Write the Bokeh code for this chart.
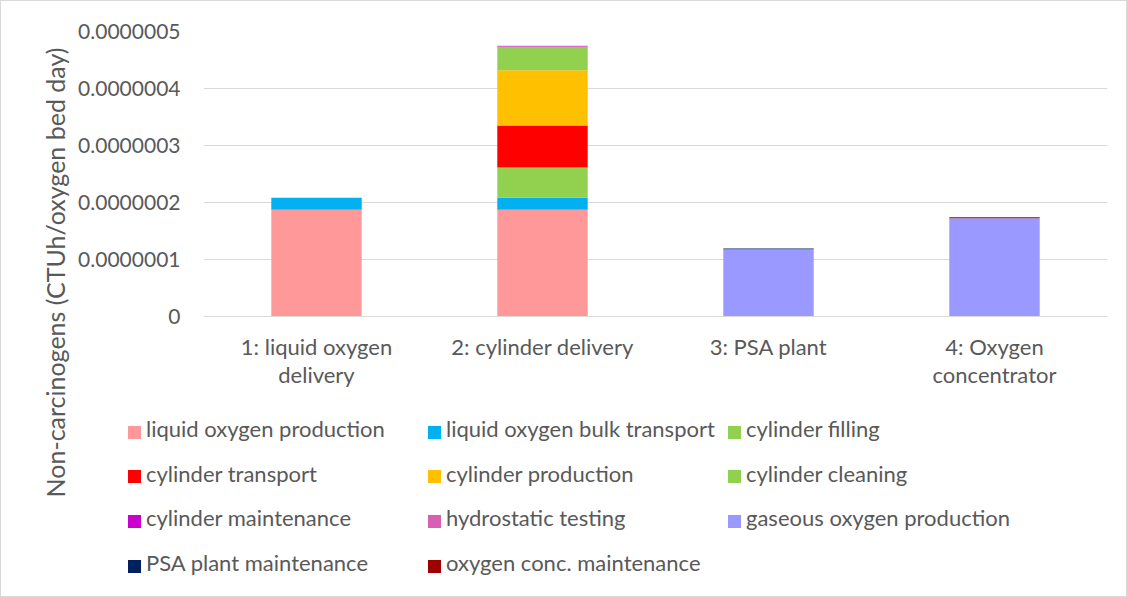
import math
from bokeh.plotting import figure
from bokeh.layouts import row, column
from bokeh.models import (FactorRange, Range1d, FixedTicker, Label, Div,
                          ColumnDataSource)
from bokeh.embed import file_html
from bokeh.resources import INLINE

# ---------------- data ----------------
categories = ["1: liquid oxygen\ndelivery", "2: cylinder delivery",
              "3: PSA plant", "4: Oxygen\nconcentrator"]

series_names = ["liquid oxygen production", "liquid oxygen bulk transport",
                "cylinder filling", "cylinder transport", "cylinder production",
                "cylinder cleaning", "cylinder maintenance", "hydrostatic testing",
                "gaseous oxygen production", "PSA plant maintenance",
                "oxygen conc. maintenance"]

liquid_oxygen_production = [1.875e-7, 1.875e-7, 0.0, 0.0]
liquid_oxygen_bulk_transport = [0.21e-7, 0.21e-7, 0.0, 0.0]
cylinder_filling = [0.0, 0.53e-7, 0.0, 0.0]
cylinder_transport = [0.0, 0.735e-7, 0.0, 0.0]
cylinder_production = [0.0, 0.97e-7, 0.0, 0.0]
cylinder_cleaning = [0.0, 0.41e-7, 0.0, 0.0]
cylinder_maintenance = [0.0, 0.006e-7, 0.0, 0.0]
hydrostatic_testing = [0.0, 0.015e-7, 0.0, 0.0]
gaseous_oxygen_production = [0.0, 0.0, 1.18e-7, 1.725e-7]
psa_plant_maintenance = [0.0, 0.0, 0.015e-7, 0.0]
oxygen_conc_maintenance = [0.0, 0.0, 0.0, 0.015e-7]

series_values = [liquid_oxygen_production, liquid_oxygen_bulk_transport,
                 cylinder_filling, cylinder_transport, cylinder_production,
                 cylinder_cleaning, cylinder_maintenance, hydrostatic_testing,
                 gaseous_oxygen_production, psa_plant_maintenance,
                 oxygen_conc_maintenance]

series_colors = ["#FF9999", "#00B0F0", "#92D050", "#FF0000", "#FFC000",
                 "#92D050", "#CC00CC", "#D660B4", "#9999FF", "#002060",
                 "#A00000"]

y_ticks = [0.0, 1e-7, 2e-7, 3e-7, 4e-7, 5e-7]
y_tick_labels = ["0", "0.0000001", "0.0000002", "0.0000003", "0.0000004", "0.0000005"]

y_title = "Non-carcinogens (CTUh/oxygen bed day)"

legend_columns = [
    ["liquid oxygen production", "cylinder transport", "cylinder maintenance",
     "PSA plant maintenance"],
    ["liquid oxygen bulk transport", "cylinder production", "hydrostatic testing",
     "oxygen conc. maintenance"],
    ["cylinder filling", "cylinder cleaning", "gaseous oxygen production"],
]

# ---------------- styling ----------------
FONT = "Lato"
TXT = "#595959"
GRID = "#D9D9D9"

keys = ["s%d" % i for i in range(len(series_names))]
data = {"cat": categories}
for k, v in zip(keys, series_values):
    data[k] = v
source = ColumnDataSource(data)


def bare(fig):
    fig.outline_line_color = None
    fig.background_fill_color = "white"
    fig.border_fill_color = "white"
    return fig


# ---------------- y-title strip (left) ----------------
tfig = bare(figure(width=74, height=595, output_backend="svg", toolbar_location=None,
                   x_axis_type=None, y_axis_type=None,
                   x_range=Range1d(0, 1), y_range=Range1d(0, 1),
                   min_border=0))
tfig.grid.visible = False
tfig.add_layout(Label(x=53, y=324, x_units="screen", y_units="screen",
                      angle=math.pi / 2, text=y_title, text_align="center",
                      text_baseline="middle", text_font=FONT,
                      text_font_size="25px", text_color=TXT))

# ---------------- main chart ----------------
p = bare(figure(x_range=FactorRange(factors=categories, range_padding=0),
                y_range=Range1d(0, 5e-7),
                width=1051, height=400, output_backend="svg", toolbar_location=None,
                min_border_left=128, min_border_right=19, min_border_top=30,
                min_border_bottom=85))

p.vbar_stack(keys, x="cat", width=0.4, color=series_colors,
             line_color=None, source=source)

p.yaxis.ticker = FixedTicker(ticks=y_ticks)
p.yaxis.major_label_overrides = dict(zip(y_ticks, y_tick_labels))
p.yaxis.axis_line_color = None
p.yaxis.major_tick_line_color = None
p.yaxis.minor_tick_line_color = None
p.yaxis.major_tick_out = 0
p.yaxis.major_label_standoff = 23
p.yaxis.major_label_text_font = FONT
p.yaxis.major_label_text_font_size = "21px"
p.yaxis.major_label_text_color = TXT

p.xaxis.axis_line_color = GRID
p.xaxis.axis_line_width = 1
p.xaxis.major_tick_line_color = None
p.xaxis.minor_tick_line_color = None
p.xaxis.major_tick_out = 0
p.xaxis.major_label_standoff = 16
p.xaxis.major_label_text_font = FONT
p.xaxis.major_label_text_font_size = "22px"
p.xaxis.major_label_text_line_height = 1.06
p.xaxis.major_label_text_color = TXT
p.xaxis.major_label_orientation = "horizontal"

p.xgrid.grid_line_color = None
p.ygrid.grid_line_color = GRID
p.ygrid.grid_line_width = 1

# ---------------- legend (HTML, three columns) ----------------
color_of = dict(zip(series_names, series_colors))
COL_LEFT = [53, 353, 653]   # swatch left edge of each column (px)
ROW_PITCH = 44.7
ROW0 = 31                   # centre of first row (px)
parts = []
for ci, names in enumerate(legend_columns):
    for ri, name in enumerate(names):
        cy = ROW0 + ri * ROW_PITCH
        x0 = COL_LEFT[ci]
        parts.append(
            '<span style="position:absolute;left:%dpx;top:%.1fpx;width:13px;'
            'height:13px;background:%s"></span>' % (x0, cy - 6.5, color_of[name]))
        parts.append(
            '<span style="position:absolute;left:%dpx;top:%.1fpx;line-height:22px;'
            'white-space:nowrap">%s</span>' % (x0 + 18, cy - 14, name))
legend_html = ('<div style="position:relative;width:1051px;height:195px;'
               'font-family:Lato;font-size:22px;color:%s;margin:0;padding:0">%s</div>'
               % (TXT, "".join(parts)))
legend_div = Div(text=legend_html, width=1051, height=195,
                 styles={"margin": "0", "padding": "0", "background": "white"})

layout = row(tfig, column(p, legend_div, spacing=0), spacing=0)
layout.styles = {"border": "1px solid #D9D9D9"}

open("out.html", "w").write(file_html(layout, INLINE))
